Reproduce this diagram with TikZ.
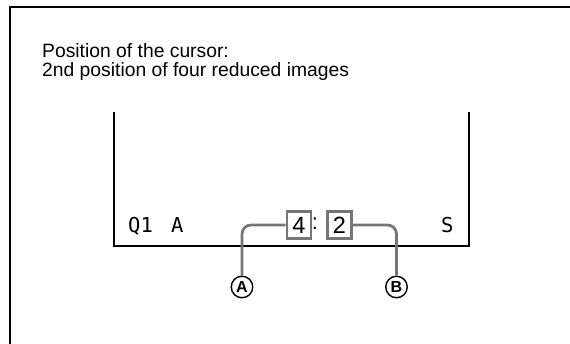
\documentclass[tikz,border=0pt]{standalone}
\usepackage{fontspec}
\setmainfont{Liberation Sans}
\newfontfamily\lcdfont{DejaVu Sans Mono}
\definecolor{lgray}{RGB}{118,118,118}
\begin{document}
\begin{tikzpicture}[x=1pt,y=-1pt,
  title/.style={anchor=base west,inner sep=0pt,font=\fontsize{19.3}{20}\selectfont},
  lcd/.style={anchor=base west,inner sep=0pt,font=\lcdfont\fontsize{20.5}{22}\selectfont},
  digitbox/.style={draw=lgray,line width=2.8pt,minimum width=24pt,minimum height=27pt,inner sep=0pt,font=\fontsize{23.5}{24}\selectfont},
  callout/.style={draw=black,line width=1.4pt,circle,minimum size=21.5pt,inner sep=0pt,font=\bfseries\fontsize{16}{17}\selectfont},
  conn/.style={draw=lgray,line width=2.8pt,rounded corners=9pt}]
\useasboundingbox (0,0) rectangle (570,344);
\draw[line width=2.2pt] (10,345) -- (10,7) -- (571,7);
\node[title] (t1) at (42,57.5) {Position of the cursor:};
\node[title] (t2) at (42,76.5) {2nd position of four reduced images};
\draw[line width=1.3pt] (114,112) -- (114,246) -- (469,246) -- (469,112);
\node[lcd] (q1) at (128,233) {Q1};
\node[lcd] (qa) at (171,233) {A};
\node[lcd] (qs) at (441,233) {S};
\node[digitbox] (b4) at (299,225) {4};
\node[digitbox] (b2) at (339.5,225) {2};
\node[inner sep=0pt,font=\fontsize{22}{22}\selectfont] (col) at (315,224) {:};
\node[callout] (cA) at (242,287) {A};
\node[callout] (cB) at (396.5,287) {B};
\draw[conn] (b4.west) -| (cA.north);
\draw[conn] (b2.east) -| (cB.north);
\end{tikzpicture}
\end{document}
